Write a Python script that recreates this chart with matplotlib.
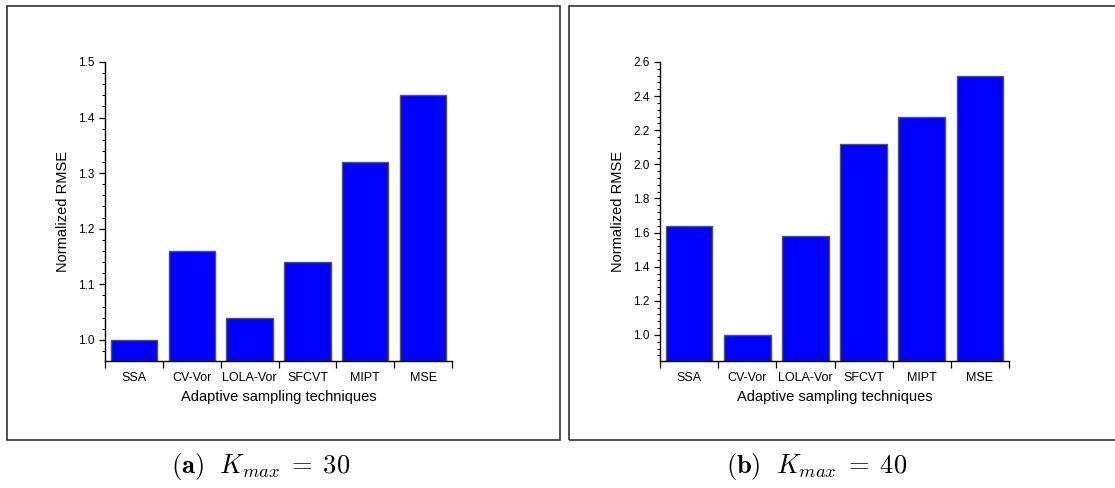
import numpy as np
import matplotlib
matplotlib.use('Agg')
import matplotlib.pyplot as plt
from matplotlib.patches import Rectangle
from matplotlib.ticker import MultipleLocator, FixedLocator, NullFormatter

plt.rcParams['font.family'] = ['Liberation Sans', 'DejaVu Sans']
plt.rcParams['mathtext.fontset'] = 'cm'

# data
techniques = ['SSA', 'CV-Vor', 'LOLA-Vor', 'SFCVT', 'MIPT', 'MSE']
rmse_k30 = [1.00, 1.16, 1.04, 1.14, 1.32, 1.44]
rmse_k40 = [1.64, 1.00, 1.58, 2.12, 2.28, 2.52]
captions = [r'$\mathbf{(a)}\ \ K_{max}\;=\;30$', r'$\mathbf{(b)}\ \ K_{max}\;=\;40$']

W, H = 1115, 488
fig = plt.figure(figsize=(W / 100, H / 100), dpi=100)

# outer frames around each panel (right one runs off the edge)
for x0, x1 in [(7, 560), (569, 1125)]:
    fig.add_artist(Rectangle((x0 / W, 1 - 440 / H), (x1 - x0) / W, (440 - 6) / H,
                             transform=fig.transFigure, fill=False,
                             edgecolor='#333333', linewidth=1.2))

panels = [
    (rmse_k30, (105, 452), (0.962, 1.5), 0.1, 0.02, 261),
    (rmse_k40, (660, 1009), (0.847, 2.6), 0.2, 0.04, 817),
]

for (vals, (px0, px1), ylim, major, minor, cap_x), cap in zip(panels, captions):
    ax = fig.add_axes([px0 / W, 1 - 361 / H, (px1 - px0) / W, (361 - 62) / H])
    x = np.arange(len(techniques))
    ax.bar(x, np.array(vals) - ylim[0], bottom=ylim[0], width=0.8,
           color='#0000FF', edgecolor='#555555', linewidth=1.0)
    ax.set_xlim(-0.5, len(techniques) - 0.5)
    ax.set_ylim(*ylim)
    ax.spines['top'].set_visible(False)
    ax.spines['right'].set_visible(False)
    ax.spines['left'].set_linewidth(1.0)
    ax.spines['bottom'].set_linewidth(1.0)

    # category labels at bar centres, tick marks between bars
    ax.set_xticks(x)
    ax.set_xticklabels(techniques, fontsize=9)
    ax.tick_params(axis='x', which='major', length=0, pad=8)
    ax.xaxis.set_minor_locator(FixedLocator(np.arange(-0.5, len(techniques), 1.0)))
    ax.tick_params(axis='x', which='minor', length=5, width=0.9, direction='out')

    ax.yaxis.set_major_locator(MultipleLocator(major))
    ax.yaxis.set_minor_locator(MultipleLocator(minor))
    ax.yaxis.set_minor_formatter(NullFormatter())
    ax.tick_params(axis='y', which='major', length=4, width=0.9, labelsize=8.5)
    ax.tick_params(axis='y', which='minor', length=2, width=0.7)
    ax.set_yticklabels([f'{t:.1f}' for t in ax.get_yticks()])
    ax.set_ylim(*ylim)

    ax.set_ylabel('Normalized RMSE', fontsize=10.5, labelpad=6)
    ax.set_xlabel('Adaptive sampling techniques', fontsize=10.5, labelpad=4)

    fig.text(cap_x / W, 1 - 466 / H, cap, fontsize=19, ha='center', va='center')

fig.savefig('out.png', dpi=100)
